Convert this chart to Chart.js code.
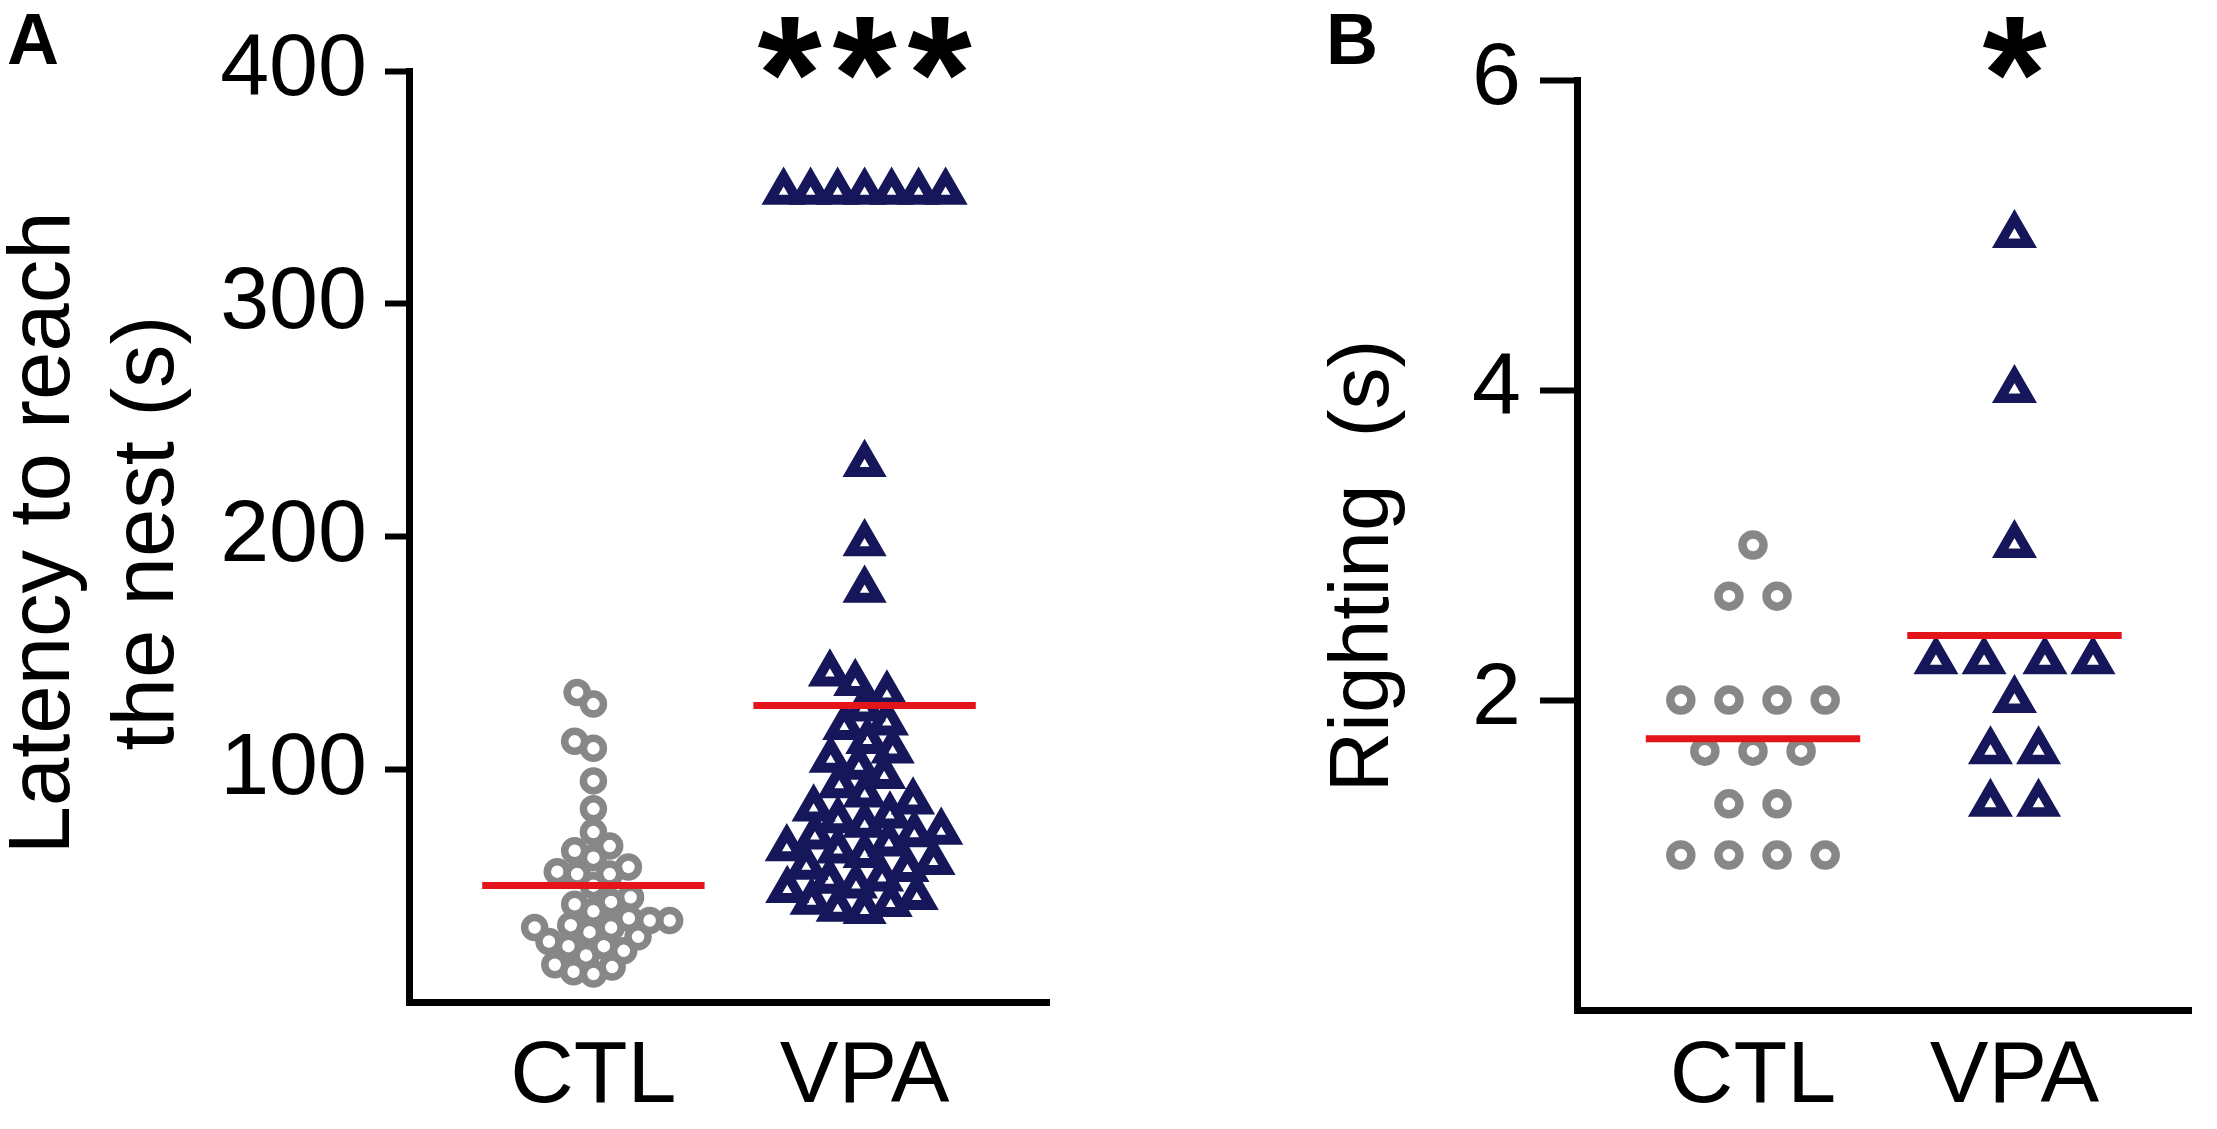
<!DOCTYPE html>
<html>
<head>
<meta charset="utf-8">
<title>Latency to reach the nest and righting</title>
<script src="https://cdn.jsdelivr.net/npm/chart.js@4.4.1/dist/chart.umd.min.js"></script>
<style>
  html, body { margin: 0; padding: 0; background: #fff; overflow: hidden; }
  .panel { position: absolute; top: 0; height: 1129px; }
  #panel-a { left: 0; width: 1108px; }
  #panel-b { left: 1108px; width: 1109px; }
</style>
</head>
<body>
<div class="panel" id="panel-a"><canvas id="chart-a"></canvas></div>
<div class="panel" id="panel-b"><canvas id="chart-b"></canvas></div>
<script>
const groups = ['CTL', 'VPA'];

// A: latency to reach the nest (s)
const latencyCtl = [133, 128, 112, 109, 95, 83, 73, 67, 65, 62, 58, 56, 55, 55, 50,
  45, 43, 42, 39, 36, 35, 35, 33, 32, 32, 30, 28, 26, 24, 24, 22, 20, 16, 15, 13, 12];
const latencyVpa = [348, 348, 348, 348, 348, 348, 348, 231, 197, 177, 141, 137, 132,
  126, 120, 118, 112, 108, 104, 101, 97, 93, 89, 86, 83, 80, 78, 76, 73, 72, 71,
  68, 66, 65, 63, 60, 58, 57, 53, 52, 50, 48, 45, 43, 42, 40, 39];
const latencyTicks = [100, 200, 300, 400];

// B: righting (s)
const rightingCtl = [3, 2.67, 2.67, 2, 2, 2, 2, 1.67, 1.67, 1.67, 1.33, 1.33, 1, 1, 1, 1];
const rightingVpa = [5, 4, 3, 2.25, 2.25, 2.25, 2.25, 2, 1.67, 1.67, 1.33, 1.33];
const rightingTicks = [2, 4, 6];

const FONT = '"Liberation Sans", Arial, Helvetica, sans-serif';
const GREY = '#878787';
const NAVY = '#15175a';
const RED = '#e4141b';
const H = 1129;

Chart.defaults.font.family = FONT;
Chart.defaults.color = '#000';

// simple beeswarm: each point goes to the free spot nearest the group centre
function beeswarm(values, center, pxPerX, pxPerY, gap) {
  const order = values.map((v, i) => i).sort((a, b) => values[a] - values[b]);
  const placed = [];
  const offsets = [];
  order.forEach(i => {
    const y = values[i] * pxPerY;
    const blocked = [];
    placed.forEach(p => {
      const dy = Math.abs(p.y - y);
      if (dy < gap) {
        const dx = Math.sqrt(gap * gap - dy * dy);
        blocked.push([p.x - dx, p.x + dx]);
      }
    });
    const candidates = [0];
    blocked.forEach(([a, b]) => candidates.push(a, b));
    candidates.sort((a, b) => Math.abs(a) - Math.abs(b));
    const x = candidates.find(c => blocked.every(([a, b]) => c <= a + 1e-6 || c >= b - 1e-6));
    placed.push({ x, y });
    offsets[i] = x;
  });

  // rows of equal values with nothing close by get centred
  const rows = {};
  values.forEach((v, i) => (rows[v] = rows[v] || []).push(i));
  Object.keys(rows).forEach(key => {
    const idx = rows[key];
    const v = Number(key);
    const isolated = values.every(w => w === v || Math.abs(w - v) * pxPerY >= gap);
    if (idx.length < 2 || !isolated) return;
    const mid = idx.reduce((s, i) => s + offsets[i], 0) / idx.length;
    idx.forEach(i => { offsets[i] -= mid; });
  });

  return values.map((v, i) => ({ x: center + offsets[i] / pxPerX, y: v }));
}

function meanLine(values, center) {
  const m = values.reduce((s, v) => s + v, 0) / values.length;
  return {
    data: [{ x: center - 0.41, y: m }, { x: center + 0.41, y: m }],
    showLine: true,
    borderColor: RED,
    borderWidth: 7,
    borderCapStyle: 'butt',
    pointRadius: 0
  };
}

// panel letter, significance stars and the rotated y title
const panelText = {
  id: 'panelText',
  afterDraw(chart, args, opts) {
    const ctx = chart.ctx;
    ctx.save();
    ctx.fillStyle = '#000';
    ctx.textBaseline = 'alphabetic';
    ctx.textAlign = 'left';
    ctx.font = 'bold 72px ' + FONT;
    ctx.fillText(opts.letter, opts.letterX, 64);

    ctx.textAlign = 'center';
    ctx.font = 'bold 165px ' + FONT;
    const cx = chart.scales.x.getPixelForValue(2);
    for (let k = 0; k < opts.stars; k++) {
      ctx.fillText('*', cx + (k - (opts.stars - 1) / 2) * 75, 131);
    }

    ctx.font = opts.titleSize + 'px ' + FONT;
    ctx.textBaseline = 'middle';
    ctx.translate(opts.titleX, opts.titleY);
    ctx.rotate(-Math.PI / 2);
    opts.title.forEach((line, i) => ctx.fillText(line, 0, i * opts.titleGap));
    ctx.restore();
  }
};

function buildPanel(canvasId, p) {
  const pxPerX = (p.right - p.left) / (p.xMax - p.xMin);
  const pxPerY = (p.bottom - p.top) / p.yMax;

  return new Chart(document.getElementById(canvasId), {
    type: 'scatter',
    data: {
      datasets: [
        meanLine(p.ctl, 1),
        meanLine(p.vpa, 2),
        {
          label: groups[0],
          data: beeswarm(p.ctl, 1, pxPerX, pxPerY, p.gapCtl),
          pointStyle: 'circle',
          pointRadius: p.circleR,
          pointBorderWidth: p.circleW,
          pointBorderColor: GREY,
          pointBackgroundColor: 'rgba(0,0,0,0)'
        },
        {
          label: groups[1],
          data: beeswarm(p.vpa, 2, pxPerX, pxPerY, p.gapVpa),
          pointStyle: 'triangle',
          pointRadius: p.triR,
          pointBorderWidth: p.triW,
          pointBorderColor: NAVY,
          pointBackgroundColor: 'rgba(0,0,0,0)'
        }
      ]
    },
    options: {
      responsive: true,
      maintainAspectRatio: false,
      animation: false,
      events: [],
      layout: { padding: { left: 0, top: p.top, right: p.width - p.right, bottom: 0 } },
      plugins: {
        legend: { display: false },
        tooltip: { enabled: false },
        panelText: p.text
      },
      scales: {
        x: {
          type: 'linear',
          min: p.xMin,
          max: p.xMax,
          afterBuildTicks: s => { s.ticks = [{ value: 1 }, { value: 2 }]; },
          afterFit: s => { s.height = H - p.bottom; },
          grid: { display: false, drawTicks: false },
          border: { display: true, color: '#000', width: 7 },
          ticks: {
            padding: p.xPad,
            maxRotation: 0,
            autoSkip: false,
            font: { size: 88 },
            callback: v => groups[v - 1]
          }
        },
        y: {
          min: 0,
          max: p.yMax,
          afterBuildTicks: s => { s.ticks = p.ticks.map(v => ({ value: v })); },
          afterFit: s => { s.width = p.left; },
          grid: {
            drawOnChartArea: false,
            drawTicks: true,
            tickLength: p.tickLen,
            tickWidth: 6,
            tickColor: '#000',
            lineWidth: 7
          },
          border: { display: true, color: '#000', width: 7 },
          ticks: { padding: p.tickPad, font: { size: 88 } }
        }
      }
    },
    plugins: [panelText]
  });
}

buildPanel('chart-a', {
  ctl: latencyCtl, vpa: latencyVpa, ticks: latencyTicks, yMax: 400,
  width: 1108, left: 409, right: 1049, top: 71, bottom: 1002,
  xMin: 0.32, xMax: 2.68, tickLen: 24, tickPad: 18, xPad: 23,
  gapCtl: 20, gapVpa: 27, circleR: 10, circleW: 7.5, triR: 15.5, triW: 10,
  text: {
    letter: 'A', letterX: 7, stars: 3,
    title: ['Latency to reach', 'the nest (s)'],
    titleSize: 87, titleX: 45, titleY: 533, titleGap: 104
  }
});

buildPanel('chart-b', {
  ctl: rightingCtl, vpa: rightingVpa, ticks: rightingTicks, yMax: 6,
  width: 1109, left: 469, right: 1107, top: 80, bottom: 1010,
  xMin: 0.327, xMax: 2.675, tickLen: 37, tickPad: 19, xPad: 15,
  gapCtl: 50, gapVpa: 50, circleR: 10.5, circleW: 8.5, triR: 16.5, triW: 9.5,
  text: {
    letter: 'B', letterX: 218, stars: 1,
    title: ['Righting  (s)'],
    titleSize: 84, titleX: 257, titleY: 566, titleGap: 0
  }
});
</script>
</body>
</html>
